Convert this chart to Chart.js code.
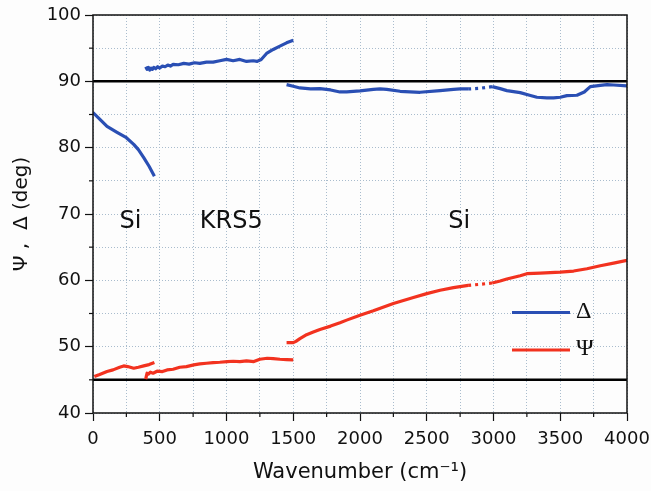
<!DOCTYPE html>
<html>
<head>
<meta charset="utf-8">
<script src="https://cdn.jsdelivr.net/npm/chart.js@4.4.1/dist/chart.umd.min.js"></script>
<style>
  body { margin: 0; background: #fdfdfd; }
  #wrap { width: 651px; height: 491px; }
</style>
</head>
<body>
<div id="wrap"><canvas id="ellips" width="651" height="491"></canvas></div>
<script>
// Data (x = wavenumber, y = degrees)

var deltaSiX = [0, 50, 105, 180, 250, 305, 340, 380, 420, 460];
var deltaSiY = [85.3, 84.3, 83.2, 82.3, 81.5, 80.5, 79.7, 78.5, 77.2, 75.7];

var deltaKrsX = [395, 405, 415, 425, 435, 445, 455, 470, 485, 500, 520, 540, 560, 580, 600, 640, 680, 720, 760, 800, 850, 900, 950, 1000, 1050, 1100, 1150, 1200, 1230, 1260, 1300, 1350, 1400, 1450, 1500];
var deltaKrsY = [92.2, 91.8, 92.1, 91.7, 92.0, 91.8, 92.1, 91.9, 92.2, 92.0, 92.3, 92.2, 92.45, 92.3, 92.55, 92.5, 92.7, 92.6, 92.8, 92.7, 92.9, 92.9, 93.1, 93.3, 93.1, 93.3, 93.0, 93.1, 93.0, 93.3, 94.2, 94.8, 95.3, 95.8, 96.2];

var deltaSi2X = [1450, 1500, 1550, 1630, 1700, 1780, 1850, 1900, 2000, 2100, 2150, 2200, 2300, 2450, 2600, 2700, 2750, 2810];
var deltaSi2Y = [89.5, 89.25, 89.0, 88.85, 88.9, 88.7, 88.4, 88.4, 88.55, 88.8, 88.85, 88.8, 88.5, 88.35, 88.6, 88.8, 88.85, 88.85];
var deltaGapX = [2810, 2900, 2990];
var deltaGapY = [88.85, 88.95, 89.2];
var deltaSi3X = [2990, 3050, 3100, 3200, 3270, 3325, 3400, 3450, 3500, 3550, 3625, 3680, 3725, 3800, 3850, 3900, 4000];
var deltaSi3Y = [89.2, 88.9, 88.6, 88.3, 87.9, 87.6, 87.5, 87.5, 87.6, 87.85, 87.9, 88.4, 89.2, 89.4, 89.5, 89.45, 89.3];

var psiSiX = [10, 50, 105, 150, 200, 230, 260, 305, 340, 380, 420, 460];
var psiSiY = [45.5, 45.8, 46.25, 46.5, 46.9, 47.1, 47.0, 46.75, 46.9, 47.1, 47.3, 47.6];

var psiKrsX = [395, 400, 405, 415, 430, 450, 480, 520, 555, 600, 650, 700, 755, 800, 850, 900, 950, 1005, 1050, 1100, 1150, 1205, 1250, 1305, 1350, 1400, 1450, 1500];
var psiKrsY = [45.1, 45.6, 46.0, 45.85, 46.15, 46.0, 46.3, 46.25, 46.5, 46.6, 46.9, 47.0, 47.25, 47.4, 47.5, 47.6, 47.65, 47.75, 47.8, 47.75, 47.85, 47.75, 48.1, 48.25, 48.2, 48.1, 48.05, 48.0];

var psiSi2X = [1450, 1500, 1520, 1550, 1600, 1650, 1700, 1780, 1850, 1900, 2000, 2100, 2250, 2400, 2500, 2600, 2700, 2810];
var psiSi2Y = [50.6, 50.6, 50.8, 51.2, 51.8, 52.2, 52.6, 53.1, 53.6, 54.0, 54.75, 55.4, 56.5, 57.4, 58.0, 58.5, 58.9, 59.25];
var psiGapX = [2810, 2900, 2990];
var psiGapY = [59.25, 59.4, 59.6];
var psiSi3X = [2990, 3050, 3100, 3200, 3250, 3350, 3500, 3600, 3700, 3800, 3900, 4000];
var psiSi3Y = [59.6, 59.9, 60.2, 60.7, 61.0, 61.1, 61.25, 61.4, 61.75, 62.2, 62.6, 63.0];

var xTicks = [0, 500, 1000, 1500, 2000, 2500, 3000, 3500, 4000];
var yTicks = [40, 50, 60, 70, 80, 90, 100];
var refLines = [90, 45];

var BLUE = '#2a4fb4';
var RED = '#f2321f';

function pts(xs, ys) {
  return xs.map(function (x, i) { return { x: x, y: ys[i] }; });
}

function line(xs, ys, color, dashed) {
  return {
    data: pts(xs, ys),
    showLine: true,
    borderColor: color,
    borderWidth: 3.2,
    borderDash: dashed ? [3, 4] : [],
    borderJoinStyle: 'round',
    pointRadius: 0,
    tension: 0
  };
}

// Box, reference lines, minor ticks, labels and legend

var extras = {
  id: 'extras',
  beforeDatasetsDraw: function (chart) {
    var c = chart.ctx, a = chart.chartArea, y = chart.scales.y;
    c.save();
    c.strokeStyle = '#000';
    c.lineWidth = 2.5;
    refLines.forEach(function (v) {
      var py = y.getPixelForValue(v);
      c.beginPath();
      c.moveTo(a.left, py);
      c.lineTo(a.right, py);
      c.stroke();
    });
    c.restore();
  },
  afterDraw: function (chart) {
    var c = chart.ctx, a = chart.chartArea;
    var x = chart.scales.x, y = chart.scales.y;
    c.save();
    c.strokeStyle = '#111';
    c.lineWidth = 1.5;
    c.strokeRect(a.left, a.top, a.right - a.left, a.bottom - a.top);

    // minor ticks
    c.lineWidth = 1.2;
    for (var v = 250; v < 4000; v += 500) {
      var px = x.getPixelForValue(v);
      c.beginPath(); c.moveTo(px, a.bottom); c.lineTo(px, a.bottom + 4); c.stroke();
    }
    for (var w = 45; w < 100; w += 10) {
      var py = y.getPixelForValue(w);
      c.beginPath(); c.moveTo(a.left, py); c.lineTo(a.left - 4, py); c.stroke();
    }

    // region labels
    c.fillStyle = '#111';
    c.font = '24px "DejaVu Sans"';
    c.textAlign = 'center';
    c.textBaseline = 'middle';
    var ly = y.getPixelForValue(68.9);
    c.fillText('Si', x.getPixelForValue(280), ly);
    c.fillText('KRS5', x.getPixelForValue(1036), ly);
    c.fillText('Si', x.getPixelForValue(2744), ly);

    // legend
    var items = [['\u0394', BLUE, 312.5], ['\u03A8', RED, 350]];
    c.font = '24px "Liberation Serif"';
    c.textAlign = 'left';
    items.forEach(function (it) {
      c.strokeStyle = it[1];
      c.lineWidth = 3;
      c.beginPath(); c.moveTo(512, it[2]); c.lineTo(570, it[2]); c.stroke();
      c.fillStyle = '#111';
      c.fillText(it[0], 576, it[2] - 1);
    });
    c.restore();
  }
};

var ctx = document.getElementById('ellips');
var chart = new Chart(ctx, {
  type: 'scatter',
  data: {
    datasets: [
      line(deltaSiX, deltaSiY, BLUE),
      line(deltaKrsX, deltaKrsY, BLUE),
      line(deltaSi2X, deltaSi2Y, BLUE),
      line(deltaGapX, deltaGapY, BLUE, true),
      line(deltaSi3X, deltaSi3Y, BLUE),
      line(psiSiX, psiSiY, RED),
      line(psiKrsX, psiKrsY, RED),
      line(psiSi2X, psiSi2Y, RED),
      line(psiGapX, psiGapY, RED, true),
      line(psiSi3X, psiSi3Y, RED)
    ]
  },
  options: {
    responsive: false,
    animation: false,
    layout: { padding: { left: 6, right: 24, top: 15, bottom: 0 } },
    plugins: {
      legend: { display: false },
      tooltip: { enabled: false }
    },
    scales: {
      x: {
        type: 'linear',
        min: 0,
        max: 4000,
        afterFit: function (s) { s.height = 78; s.paddingLeft = 0; s.paddingRight = 0; },
        afterBuildTicks: function (s) {
          var t = [];
          for (var v = 0; v <= 4000; v += 250) t.push({ value: v });
          s.ticks = t;
        },
        ticks: {
          autoSkip: false,
          maxRotation: 0,
          padding: 8,
          color: '#111',
          font: { family: 'DejaVu Sans', size: 18 },
          callback: function (v) { return xTicks.indexOf(v) >= 0 ? v : ''; }
        },
        grid: {
          color: '#a9bccd',
          lineWidth: 1,
          tickLength: 8,
          tickWidth: 1.2,
          tickBorderDash: [],
          tickColor: function (c) { return xTicks.indexOf(c.tick && c.tick.value) >= 0 ? '#111' : 'rgba(0,0,0,0)'; }
        },
        border: { display: false, dash: [1, 2] },
        title: {
          display: true,
          text: 'Wavenumber (cm\u207B\u00B9)',
          color: '#111',
          font: { family: 'DejaVu Sans', size: 21 },
          padding: { top: 0, bottom: 6 }
        }
      },
      y: {
        min: 40,
        max: 100,
        afterFit: function (s) { s.width = 87; s.paddingTop = 0; s.paddingBottom = 0; },
        afterBuildTicks: function (s) {
          var t = [];
          for (var v = 40; v <= 100; v += 5) t.push({ value: v });
          s.ticks = t;
        },
        ticks: {
          autoSkip: false,
          padding: 4,
          color: '#111',
          font: { family: 'DejaVu Sans', size: 18 },
          callback: function (v) { return yTicks.indexOf(v) >= 0 ? v : ''; }
        },
        grid: {
          color: '#a9bccd',
          lineWidth: 1,
          tickLength: 8,
          tickWidth: 1.2,
          tickBorderDash: [],
          tickColor: function (c) { return yTicks.indexOf(c.tick && c.tick.value) >= 0 ? '#111' : 'rgba(0,0,0,0)'; }
        },
        border: { display: false, dash: [1, 2] },
        title: {
          display: true,
          text: '\u03A8 ,  \u0394 (deg)',
          color: '#111',
          font: { family: 'DejaVu Sans', size: 20 },
          padding: { top: 4, bottom: 0 }
        }
      }
    }
  },
  plugins: [extras]
});
</script>
</body>
</html>
